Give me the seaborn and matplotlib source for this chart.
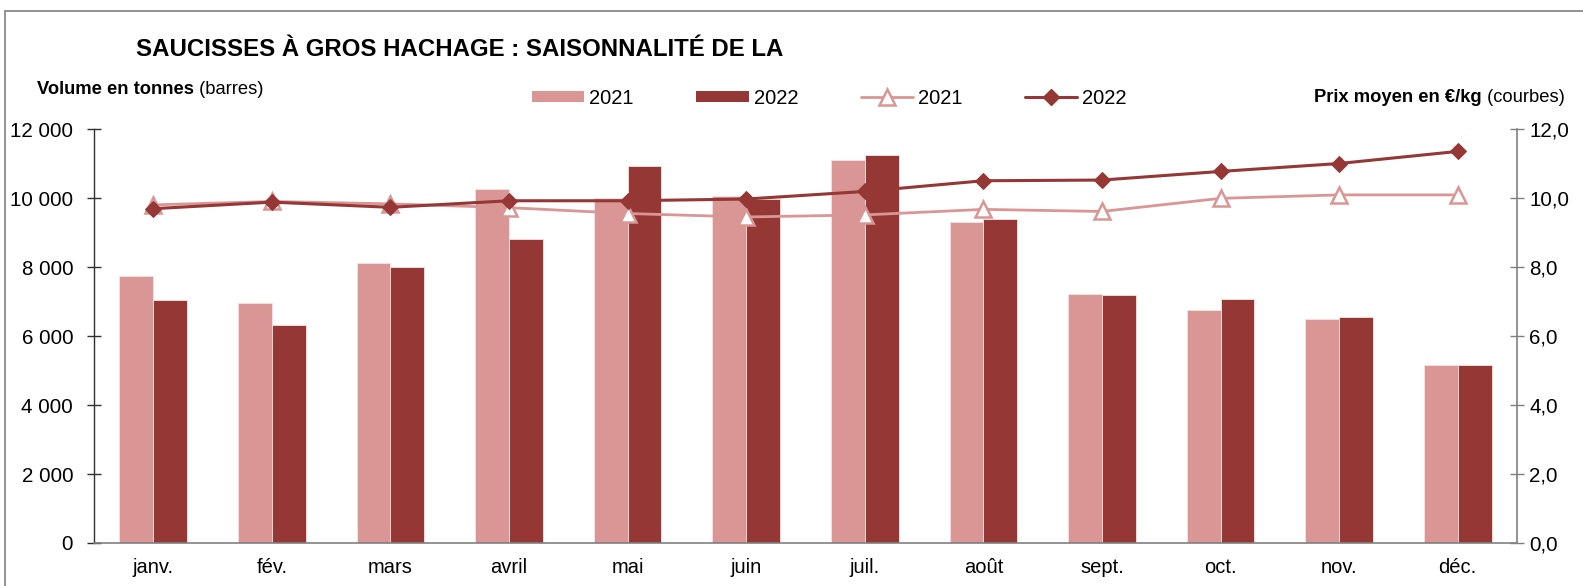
import numpy as np
import pandas as pd
import matplotlib
matplotlib.use("Agg")
import matplotlib.pyplot as plt
import seaborn as sns
from matplotlib.patches import Patch, Rectangle
from matplotlib.lines import Line2D
from matplotlib.ticker import FuncFormatter, FixedLocator

mois = ["janv.", "fév.", "mars", "avril", "mai", "juin",
        "juil.", "août", "sept.", "oct.", "nov.", "déc."]
annees = ["2021", "2022"]

# Volumes mensuels (tonnes)
volume_2021 = [7740, 6970, 8110, 10270, 9990, 10050, 11090, 9290, 7210, 6740, 6480, 5150]
volume_2022 = [7030, 6330, 8000, 8820, 10920, 9980, 11240, 9380, 7190, 7070, 6550, 5170]

# Prix moyen (€/kg)
prix_2021 = [9.80, 9.90, 9.83, 9.72, 9.55, 9.45, 9.51, 9.67, 9.61, 9.99, 10.09, 10.09]
prix_2022 = [9.69, 9.88, 9.73, 9.92, 9.92, 9.97, 10.19, 10.50, 10.52, 10.77, 11.00, 11.35]

c_clair = "#D99694"
c_fonce = "#953735"

sns.set_theme(style="white")
plt.rcParams["font.family"] = ["Liberation Sans", "DejaVu Sans"]
plt.rcParams["text.color"] = "black"

W, H = 1583, 586
fig = plt.figure(figsize=(W / 100, H / 100), dpi=100)
ax = fig.add_axes([94 / W, 1 - 543 / H, 1423 / W, 414 / H])

df = pd.DataFrame({
    "mois": mois * 2,
    "annee": [annees[0]] * 12 + [annees[1]] * 12,
    "volume": volume_2021 + volume_2022,
})
sns.barplot(data=df, x="mois", y="volume", hue="annee", order=mois,
            hue_order=annees, palette=[c_clair, c_fonce], width=0.57,
            saturation=1, edgecolor="#f3e4e4", linewidth=0.6, ax=ax)
ax.get_legend().remove()

ax.set_xlim(-0.5, 11.5)
ax.set_ylim(0, 12000)
ax.set_yticks(np.arange(0, 12001, 2000))
ax.yaxis.set_major_formatter(FuncFormatter(lambda v, p: f"{int(v):,}".replace(",", " ")))
ax.set_xlabel("")
ax.set_ylabel("")

# category ticks on boundaries, labels centred
ax.xaxis.set_major_locator(FixedLocator(np.arange(12)))
ax.xaxis.set_minor_locator(FixedLocator(np.arange(-0.5, 12, 1)))
ax.tick_params(axis="x", which="major", length=0, pad=11, labelsize=14.5, labelcolor="black")
ax.tick_params(axis="x", which="minor", length=10, direction="inout", width=1, color="#404040")
ax.tick_params(axis="y", length=10, direction="inout", width=1, color="#303030",
               pad=10, labelsize=14.8, labelcolor="black", left=True)

for s in ["top", "right"]:
    ax.spines[s].set_visible(False)
ax.spines["left"].set_color("#303030")
ax.spines["bottom"].set_color("#808080")
ax.spines["left"].set_linewidth(1)
ax.spines["bottom"].set_linewidth(1.2)

ax2 = ax.twinx()
x = np.arange(12)
sns.lineplot(x=x, y=prix_2021, color=c_clair, linewidth=2, marker="^",
             markersize=12, markerfacecolor="white", markeredgecolor=c_clair,
             markeredgewidth=1.8, ax=ax2, zorder=3)
sns.lineplot(x=x, y=prix_2022, color=c_fonce, linewidth=2.2, marker="D",
             markersize=8.5, markerfacecolor=c_fonce, markeredgecolor=c_fonce,
             ax=ax2, zorder=4)
ax2.set_ylim(0, 12)
ax2.set_xlim(-0.5, 11.5)
ax2.set_yticks(np.arange(0, 12.1, 2))
ax2.yaxis.set_major_formatter(FuncFormatter(lambda v, p: f"{v:.1f}".replace(".", ",")))
ax2.tick_params(axis="y", length=10, direction="inout", width=1, color="#808080",
                pad=4, labelsize=14.8, labelcolor="black", right=True)
for s in ["top", "left", "bottom"]:
    ax2.spines[s].set_visible(False)
ax2.spines["right"].set_color("#808080")
ax2.spines["right"].set_linewidth(1.2)
ax2.set_ylabel("")

# chart frame
fig.patches.append(Rectangle((5 / W, -0.2), 1.2, 1.2 - 11 / H, transform=fig.transFigure,
                             fill=False, edgecolor="#808080", linewidth=1.2))

fig.text(136 / W, 1 - 50 / H, "SAUCISSES À GROS HACHAGE : SAISONNALITÉ DE LA",
         fontsize=17.3, fontweight="bold", va="center", ha="left")

t1 = fig.text(37 / W, 1 - 89.5 / H, "Volume en tonnes", fontsize=13.2,
              fontweight="bold", va="center", ha="left")
plt.annotate(" (barres)", xy=(1, 0.5), xycoords=t1, fontsize=13.2,
             va="center", ha="left", annotation_clip=False)

t2 = fig.text(1565 / W, 1 - 98 / H, " (courbes)", fontsize=13.2,
              va="center", ha="right")
plt.annotate("Prix moyen en €/kg", xy=(0, 0.5), xycoords=t2, fontsize=13.2,
             fontweight="bold", va="center", ha="right", annotation_clip=False)

handles = [
    Patch(facecolor=c_clair, edgecolor="none"),
    Patch(facecolor=c_fonce, edgecolor="none"),
    Line2D([], [], color=c_clair, linewidth=2, marker="^", markersize=11,
           markerfacecolor="white", markeredgecolor=c_clair, markeredgewidth=1.8),
    Line2D([], [], color=c_fonce, linewidth=2.2, marker="D", markersize=8.5,
           markerfacecolor=c_fonce, markeredgecolor=c_fonce),
]
fig.legend(handles, ["2021", "2022", "2021", "2022"], ncol=4, frameon=False,
           loc="center left", bbox_to_anchor=(532 / W, 1 - 98 / H),
           bbox_transform=fig.transFigure, fontsize=14.5, handlelength=2.6,
           handleheight=0.5, handletextpad=0.25, columnspacing=3.1,
           borderpad=0, borderaxespad=0)

fig.savefig("out.png", dpi=100)
